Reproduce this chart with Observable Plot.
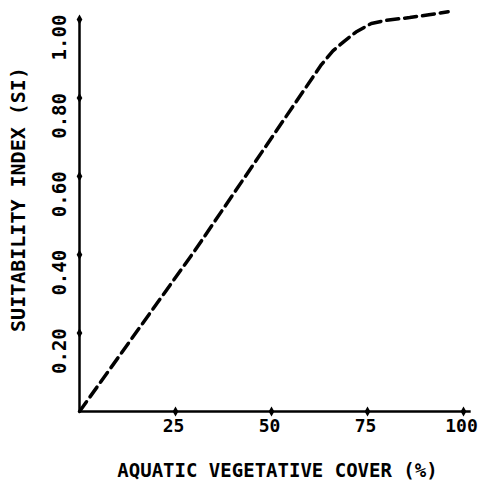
<!DOCTYPE html>
<html>
<head>
<meta charset="utf-8">
<script src="https://cdn.jsdelivr.net/npm/d3@7"></script>
<script src="https://cdn.jsdelivr.net/npm/@observablehq/plot@0.6"></script>
<style>
  html, body { margin: 0; padding: 0; background: #fff; }
  svg { display: block; }
</style>
</head>
<body>
<div id="chart"></div>
<script>
// Curve: aquatic vegetative cover (%) vs suitability index
const cover = [0, 30, 63, 66, 69, 72, 76, 80, 86, 91, 96];
const si    = [0, 0.41, 0.885, 0.92, 0.945, 0.968, 0.99, 0.998, 1.005, 1.012, 1.02];
const xTicks = [25, 50, 75, 100];
const xTickLabels = ["25", "50", "75", "100"];
const yTicks = [0.2, 0.4, 0.6, 0.8, 1.0];
const yTickLabels = ["0.20", "0.40", "0.60", "0.80", "1.00"];
const xTitle = "AQUATIC VEGETATIVE COVER (%)";
const yTitle = "SUITABILITY INDEX (SI)";

const curve = cover.map((c, i) => ({c, s: si[i]}));
const font = "'DejaVu Sans Mono', monospace";

const chart = Plot.plot({
  width: 479,
  height: 482,
  marginLeft: 79,
  marginRight: 16,
  marginTop: 19,
  marginBottom: 71,
  style: {fontFamily: font, background: "#fff", color: "#000"},
  x: {domain: [0, 100], axis: null},
  y: {domain: [0, 1], axis: null},
  marks: [
    // axes lines
    Plot.ruleY([0], {x1: 0, x2: 102, stroke: "#000", strokeWidth: 2.5}),
    Plot.ruleX([0], {y1: 0, y2: 1, stroke: "#000", strokeWidth: 2.5}),
    // tick diamonds
    Plot.dot(yTicks, {x: 0, y: d => d, symbol: "diamond", r: 3, fill: "#000"}),
    Plot.dot(xTicks, {x: d => d, y: 0, symbol: "diamond", r: 3, fill: "#000"}),
    // tick labels
    Plot.text(xTicks, {x: d => d, y: 0, text: (d, i) => xTickLabels[i], dx: -2, dy: 15, fontSize: 18, fontWeight: "bold", fill: "#000"}),
    Plot.text(yTicks, {x: 0, y: d => d, text: (d, i) => yTickLabels[i], rotate: -90, dx: -20, dy: 18, fontSize: 19, fontWeight: "bold", fill: "#000"}),
    // titles
    Plot.text([xTitle], {frameAnchor: "bottom", textAnchor: "middle", lineAnchor: "middle", dx: 6, dy: 59, fontSize: 19, fontWeight: "bold", fill: "#000"}),
    Plot.text([yTitle], {frameAnchor: "left", textAnchor: "middle", lineAnchor: "middle", rotate: -90, dx: -61, dy: -16, fontSize: 20, fontWeight: "bold", fill: "#000"}),
    // dashed curve
    Plot.line(curve, {x: "c", y: "s", stroke: "#000", strokeWidth: 3.5, strokeDasharray: "12,6"})
  ]
});
document.getElementById("chart").appendChild(chart);
</script>
</body>
</html>
